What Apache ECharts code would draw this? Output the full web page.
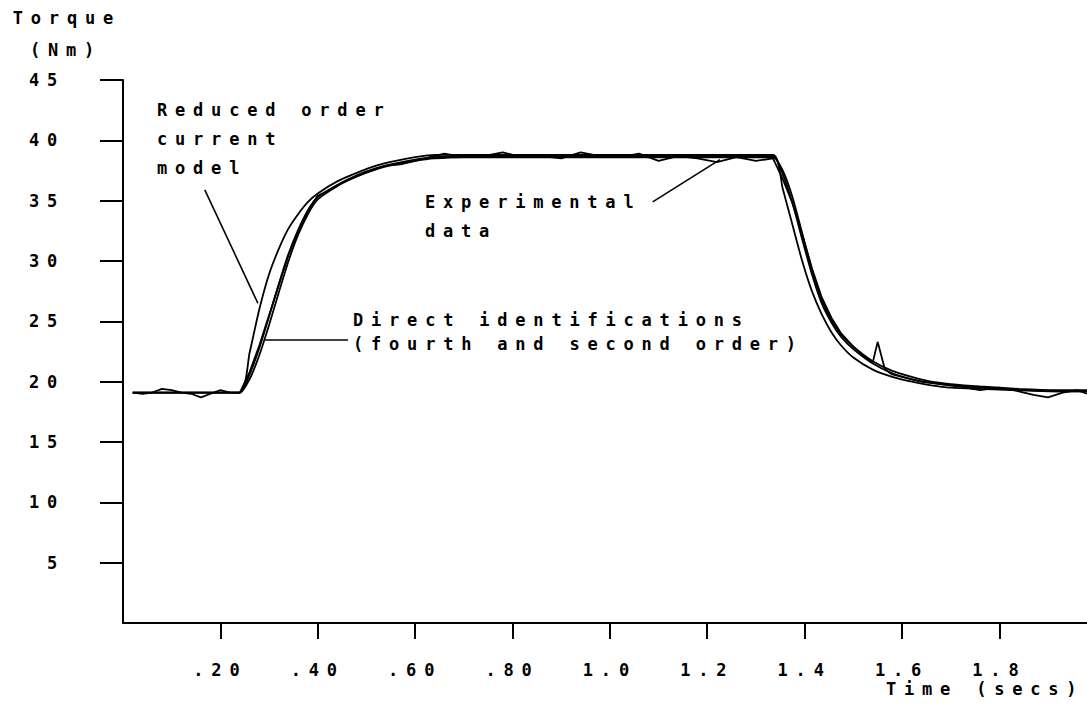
<!DOCTYPE html>
<html>
<head>
<meta charset="utf-8">
<script src="https://cdn.jsdelivr.net/npm/echarts@6/dist/echarts.min.js"></script>
<style>
  html, body { margin: 0; padding: 0; background: #fff; }
  #chart { width: 1087px; height: 707px; }
  #chart svg text { letter-spacing: 7.8px; }
</style>
</head>
<body>
<div id="chart"></div>
<script>
// ---- Tick values / labels ----
const xTickValues = [0.2, 0.4, 0.6, 0.8, 1.0, 1.2, 1.4, 1.6, 1.8];
const xTickLabels = ['.20', '.40', '.60', '.80', '1.0', '1.2', '1.4', '1.6', '1.8'];
const yTickValues = [5, 10, 15, 20, 25, 30, 35, 40, 45];
const yTickLabels = ['5', '10', '15', '20', '25', '30', '35', '40', '45'];

// ---- Experimental data (time s, torque Nm) ----
const tExp = [0.02,0.04,0.06,0.08,0.10,0.12,0.14,0.16,0.18,0.20,0.22,0.24,0.26,0.28,0.30,0.32,0.34,0.36,0.38,0.40,
  0.42,0.45,0.48,0.51,0.54,0.57,0.60,0.63,0.66,
  0.70,0.74,0.78,0.82,0.86,0.90,0.94,0.98,1.02,1.06,1.10,1.14,1.18,1.22,1.26,1.30,
  1.335,1.355,1.375,1.395,1.415,1.435,1.455,1.475,
  1.50,1.525,1.54,1.55,1.565,1.58,
  1.61,1.64,1.68,1.72,1.76,1.80,1.84,1.87,1.90,1.93,1.96,1.98];
const vExp = [19.1,19.0,19.1,19.4,19.3,19.1,19.0,18.7,19.0,19.3,19.1,19.1,20.8,23.0,25.5,28.0,30.5,32.5,34.2,35.4,
  35.8,36.5,37.0,37.5,37.9,38.0,38.3,38.6,38.9,
  38.6,38.7,39.0,38.6,38.7,38.5,39.0,38.7,38.6,38.9,38.3,38.7,38.5,38.2,38.6,38.3,
  38.5,36.8,34.8,32.2,29.4,27.0,25.3,24.0,
  22.9,22.0,21.6,23.3,21.0,20.6,
  20.3,20.0,19.8,19.6,19.3,19.5,19.2,18.9,18.7,19.1,19.3,19.0];

// ---- Model time grid (shared) ----
const tModel = [0.02,0.24,0.26,0.28,0.30,0.32,0.34,0.36,0.38,0.40,
  0.44,0.48,0.52,0.56,0.60,0.64,0.70,
  1.335,1.355,1.375,1.395,1.415,1.435,1.455,1.475,
  1.50,1.54,1.58,1.62,1.66,1.70,1.76,1.84,1.92,1.98];
// Reduced order current model
const vReduced = [19.1,19.1,22.4,26.0,28.9,31.0,32.7,33.9,34.9,35.6,
  36.6,37.3,37.9,38.3,38.6,38.8,38.8,
  38.8,36.0,33.0,30.0,27.5,25.6,24.1,23.0,
  22.0,21.0,20.4,20.0,19.7,19.5,19.4,19.3,19.2,19.2];
// Direct identification, fourth order
const vFourth = [19.1,19.1,20.6,22.8,25.4,28.1,30.6,32.6,34.2,35.3,
  36.3,37.1,37.7,38.1,38.4,38.6,38.7,
  38.7,37.2,34.8,31.8,28.9,26.5,24.9,23.7,
  22.7,21.5,20.7,20.2,19.9,19.7,19.5,19.3,19.2,19.2];
// Direct identification, second order
const vSecond = [19.1,19.1,20.2,22.2,24.7,27.4,30.0,32.2,33.9,35.1,
  36.2,37.0,37.6,38.0,38.3,38.5,38.6,
  38.6,37.5,35.3,32.3,29.3,26.8,25.1,23.9,
  22.9,21.7,20.9,20.4,20.0,19.8,19.6,19.4,19.3,19.3];

// ---- Annotation leader lines (data coordinates) ----
const leaderReduced = [[0.168, 35.9], [0.277, 26.5]];
const leaderDirect = [[0.292, 23.5], [0.462, 23.5]];
const leaderExp = [[1.088, 34.9], [1.226, 38.4]];

const zip = (t, v) => t.map((x, i) => [x, v[i]]);

const FONT = '"DejaVu Sans Mono", "Liberation Mono", monospace';
const FS = 17;
const txt = { fontFamily: FONT, fontWeight: 'bold', fontSize: FS, color: '#000' };
const gfont = 'bold ' + FS + 'px ' + FONT;

const chart = echarts.init(document.getElementById('chart'), null, { renderer: 'svg' });

const lineBase = { type: 'line', symbol: 'none', animation: false, silent: true,
  lineStyle: { color: '#000', width: 1.8 } };

const option = {
  backgroundColor: '#fff',
  animation: false,
  grid: { left: 123, right: 0, top: 80, bottom: 84, containLabel: false, outerBoundsMode: 'none' },
  xAxis: {
    type: 'value', min: 0, max: 1.98,
    name: 'Time (secs)', nameLocation: 'end', nameGap: -201,
    nameTextStyle: Object.assign({}, txt, { align: 'left', verticalAlign: 'top', padding: [57, 0, 0, 0] }),
    axisLine: { show: true, onZero: false, lineStyle: { color: '#000', width: 2 } },
    axisTick: { show: true, inside: false, length: 16, customValues: xTickValues, lineStyle: { color: '#000', width: 2 } },
    axisLabel: Object.assign({}, txt, { margin: 38, customValues: xTickValues,
      formatter: v => { const i = xTickValues.findIndex(x => Math.abs(x - v) < 1e-6); return i >= 0 ? xTickLabels[i] : ''; } }),
    splitLine: { show: false }
  },
  yAxis: {
    type: 'value', min: 0, max: 45, interval: 5,
    name: 'Torque', nameLocation: 'end', nameGap: 62,
    nameTextStyle: Object.assign({}, txt, { align: 'right', verticalAlign: 'middle', padding: [0, 2, 0, 0] }),
    axisLine: { show: true, onZero: false, lineStyle: { color: '#000', width: 2 } },
    axisTick: { show: true, inside: false, length: 23, customValues: yTickValues, lineStyle: { color: '#000', width: 2 } },
    axisLabel: Object.assign({}, txt, { margin: 58, customValues: yTickValues,
      formatter: v => { const i = yTickValues.indexOf(v); return i >= 0 ? yTickLabels[i] : ''; } }),
    splitLine: { show: false }
  },
  graphic: [
    { type: 'text', left: 30, top: 41, style: { text: '(Nm)', font: gfont, fill: '#000' } },
    { type: 'text', left: 157, top: 101, style: { text: 'Reduced order', font: gfont, fill: '#000' } },
    { type: 'text', left: 157, top: 130, style: { text: 'current', font: gfont, fill: '#000' } },
    { type: 'text', left: 157, top: 159, style: { text: 'model', font: gfont, fill: '#000' } },
    { type: 'text', left: 425, top: 193, style: { text: 'Experimental', font: gfont, fill: '#000' } },
    { type: 'text', left: 425, top: 222, style: { text: 'data', font: gfont, fill: '#000' } },
    { type: 'text', left: 353, top: 311, style: { text: 'Direct identifications', font: gfont, fill: '#000' } },
    { type: 'text', left: 353, top: 335, style: { text: '(fourth and second order)', font: gfont, fill: '#000' } }
  ],
  series: [
    Object.assign({}, lineBase, { name: 'Experimental data', data: zip(tExp, vExp),
      markLine: { silent: true, symbol: 'none', animation: false, label: { show: false },
        lineStyle: { color: '#000', width: 1.6, type: 'solid' },
        data: [
          [{ coord: leaderReduced[0] }, { coord: leaderReduced[1] }],
          [{ coord: leaderDirect[0] }, { coord: leaderDirect[1] }],
          [{ coord: leaderExp[0] }, { coord: leaderExp[1] }]
        ] } }),
    Object.assign({}, lineBase, { name: 'Reduced order current model', data: zip(tModel, vReduced), smooth: 0.2 }),
    Object.assign({}, lineBase, { name: 'Direct identification (fourth order)', data: zip(tModel, vFourth), smooth: 0.2 }),
    Object.assign({}, lineBase, { name: 'Direct identification (second order)', data: zip(tModel, vSecond), smooth: 0.2 })
  ]
};
chart.setOption(option);
</script>
</body>
</html>
